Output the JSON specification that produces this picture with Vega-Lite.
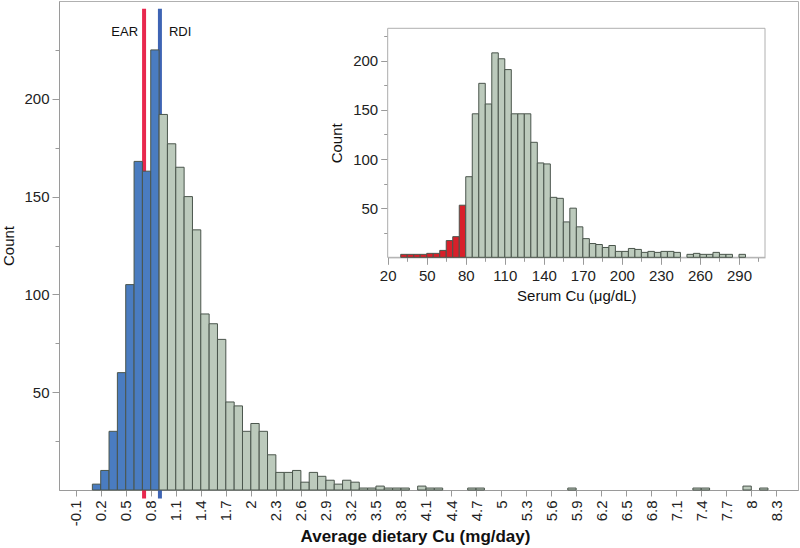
{
  "$schema": "https://vega.github.io/schema/vega-lite/v6.json",
  "width": 739,
  "height": 489,
  "autosize": {"type": "none"},
  "padding": {"left": 59, "top": 1, "right": 2, "bottom": 58},
  "background": "white",
  "config": {
    "view": {"stroke": "#b0b0b0", "strokeWidth": 1},
    "axis": {"grid": false, "labelFont": "Liberation Sans", "titleFont": "Liberation Sans", "domainColor": "#9a9a9a", "tickColor": "#9a9a9a", "labelColor": "#222222", "titleColor": "#111111", "labelOverlap": false, "labelFlush": false},
    "text": {"font": "Liberation Sans"}
  },
  "datasets": {
    "diet": [
      {"bin_start": 0.1, "bin_end": 0.2, "count": 3, "group": "below"},
      {"bin_start": 0.2, "bin_end": 0.3, "count": 10, "group": "below"},
      {"bin_start": 0.3, "bin_end": 0.4, "count": 30, "group": "below"},
      {"bin_start": 0.4, "bin_end": 0.5, "count": 60, "group": "below"},
      {"bin_start": 0.5, "bin_end": 0.6, "count": 105, "group": "below"},
      {"bin_start": 0.6, "bin_end": 0.7, "count": 168, "group": "below"},
      {"bin_start": 0.7, "bin_end": 0.8, "count": 163, "group": "below"},
      {"bin_start": 0.8, "bin_end": 0.9, "count": 225, "group": "below"},
      {"bin_start": 0.9, "bin_end": 1.0, "count": 192, "group": "above"},
      {"bin_start": 1.0, "bin_end": 1.1, "count": 177, "group": "above"},
      {"bin_start": 1.1, "bin_end": 1.2, "count": 165, "group": "above"},
      {"bin_start": 1.2, "bin_end": 1.3, "count": 150, "group": "above"},
      {"bin_start": 1.3, "bin_end": 1.4, "count": 133, "group": "above"},
      {"bin_start": 1.4, "bin_end": 1.5, "count": 90, "group": "above"},
      {"bin_start": 1.5, "bin_end": 1.6, "count": 85, "group": "above"},
      {"bin_start": 1.6, "bin_end": 1.7, "count": 77, "group": "above"},
      {"bin_start": 1.7, "bin_end": 1.8, "count": 45, "group": "above"},
      {"bin_start": 1.8, "bin_end": 1.9, "count": 43, "group": "above"},
      {"bin_start": 1.9, "bin_end": 2.0, "count": 30, "group": "above"},
      {"bin_start": 2.0, "bin_end": 2.1, "count": 34, "group": "above"},
      {"bin_start": 2.1, "bin_end": 2.2, "count": 30, "group": "above"},
      {"bin_start": 2.2, "bin_end": 2.3, "count": 18, "group": "above"},
      {"bin_start": 2.3, "bin_end": 2.4, "count": 9, "group": "above"},
      {"bin_start": 2.4, "bin_end": 2.5, "count": 9, "group": "above"},
      {"bin_start": 2.5, "bin_end": 2.6, "count": 10, "group": "above"},
      {"bin_start": 2.6, "bin_end": 2.7, "count": 4, "group": "above"},
      {"bin_start": 2.7, "bin_end": 2.8, "count": 9, "group": "above"},
      {"bin_start": 2.8, "bin_end": 2.9, "count": 7, "group": "above"},
      {"bin_start": 2.9, "bin_end": 3.0, "count": 5, "group": "above"},
      {"bin_start": 3.0, "bin_end": 3.1, "count": 3, "group": "above"},
      {"bin_start": 3.1, "bin_end": 3.2, "count": 5, "group": "above"},
      {"bin_start": 3.2, "bin_end": 3.3, "count": 4, "group": "above"},
      {"bin_start": 3.3, "bin_end": 3.4, "count": 1, "group": "above"},
      {"bin_start": 3.4, "bin_end": 3.5, "count": 1, "group": "above"},
      {"bin_start": 3.5, "bin_end": 3.6, "count": 2, "group": "above"},
      {"bin_start": 3.6, "bin_end": 3.7, "count": 1, "group": "above"},
      {"bin_start": 3.7, "bin_end": 3.8, "count": 1, "group": "above"},
      {"bin_start": 3.8, "bin_end": 3.9, "count": 1, "group": "above"},
      {"bin_start": 4.0, "bin_end": 4.1, "count": 2, "group": "above"},
      {"bin_start": 4.1, "bin_end": 4.2, "count": 1, "group": "above"},
      {"bin_start": 4.2, "bin_end": 4.3, "count": 1, "group": "above"},
      {"bin_start": 4.6, "bin_end": 4.7, "count": 1, "group": "above"},
      {"bin_start": 4.7, "bin_end": 4.8, "count": 1, "group": "above"},
      {"bin_start": 5.8, "bin_end": 5.9, "count": 1, "group": "above"},
      {"bin_start": 7.3, "bin_end": 7.4, "count": 1, "group": "above"},
      {"bin_start": 7.4, "bin_end": 7.5, "count": 1, "group": "above"},
      {"bin_start": 7.9, "bin_end": 8.0, "count": 2, "group": "above"},
      {"bin_start": 8.1, "bin_end": 8.2, "count": 1, "group": "above"}
    ],
    "serum": [
      {"bin_start": 30, "bin_end": 35, "count": 3, "group": "low"},
      {"bin_start": 35, "bin_end": 40, "count": 3, "group": "low"},
      {"bin_start": 40, "bin_end": 45, "count": 3, "group": "low"},
      {"bin_start": 45, "bin_end": 50, "count": 3, "group": "low"},
      {"bin_start": 50, "bin_end": 55, "count": 4, "group": "low"},
      {"bin_start": 55, "bin_end": 60, "count": 4, "group": "low"},
      {"bin_start": 60, "bin_end": 65, "count": 7, "group": "low"},
      {"bin_start": 65, "bin_end": 70, "count": 17, "group": "low"},
      {"bin_start": 70, "bin_end": 75, "count": 21, "group": "low"},
      {"bin_start": 75, "bin_end": 80, "count": 53, "group": "low"},
      {"bin_start": 80, "bin_end": 85, "count": 82, "group": "normal"},
      {"bin_start": 85, "bin_end": 90, "count": 146, "group": "normal"},
      {"bin_start": 90, "bin_end": 95, "count": 177, "group": "normal"},
      {"bin_start": 95, "bin_end": 100, "count": 156, "group": "normal"},
      {"bin_start": 100, "bin_end": 105, "count": 208, "group": "normal"},
      {"bin_start": 105, "bin_end": 110, "count": 202, "group": "normal"},
      {"bin_start": 110, "bin_end": 115, "count": 191, "group": "normal"},
      {"bin_start": 115, "bin_end": 120, "count": 146, "group": "normal"},
      {"bin_start": 120, "bin_end": 125, "count": 146, "group": "normal"},
      {"bin_start": 125, "bin_end": 130, "count": 146, "group": "normal"},
      {"bin_start": 130, "bin_end": 135, "count": 117, "group": "normal"},
      {"bin_start": 135, "bin_end": 140, "count": 96, "group": "normal"},
      {"bin_start": 140, "bin_end": 145, "count": 95, "group": "normal"},
      {"bin_start": 145, "bin_end": 150, "count": 61, "group": "normal"},
      {"bin_start": 150, "bin_end": 155, "count": 60, "group": "normal"},
      {"bin_start": 155, "bin_end": 160, "count": 36, "group": "normal"},
      {"bin_start": 160, "bin_end": 165, "count": 50, "group": "normal"},
      {"bin_start": 165, "bin_end": 170, "count": 31, "group": "normal"},
      {"bin_start": 170, "bin_end": 175, "count": 19, "group": "normal"},
      {"bin_start": 175, "bin_end": 180, "count": 14, "group": "normal"},
      {"bin_start": 180, "bin_end": 185, "count": 13, "group": "normal"},
      {"bin_start": 185, "bin_end": 190, "count": 10, "group": "normal"},
      {"bin_start": 190, "bin_end": 195, "count": 12, "group": "normal"},
      {"bin_start": 195, "bin_end": 200, "count": 6, "group": "normal"},
      {"bin_start": 200, "bin_end": 205, "count": 6, "group": "normal"},
      {"bin_start": 205, "bin_end": 210, "count": 9, "group": "normal"},
      {"bin_start": 210, "bin_end": 215, "count": 8, "group": "normal"},
      {"bin_start": 215, "bin_end": 220, "count": 5, "group": "normal"},
      {"bin_start": 220, "bin_end": 225, "count": 6, "group": "normal"},
      {"bin_start": 225, "bin_end": 230, "count": 5, "group": "normal"},
      {"bin_start": 230, "bin_end": 235, "count": 6, "group": "normal"},
      {"bin_start": 235, "bin_end": 240, "count": 6, "group": "normal"},
      {"bin_start": 240, "bin_end": 245, "count": 5, "group": "normal"},
      {"bin_start": 250, "bin_end": 255, "count": 3, "group": "normal"},
      {"bin_start": 255, "bin_end": 260, "count": 4, "group": "normal"},
      {"bin_start": 260, "bin_end": 265, "count": 3, "group": "normal"},
      {"bin_start": 265, "bin_end": 270, "count": 3, "group": "normal"},
      {"bin_start": 270, "bin_end": 275, "count": 5, "group": "normal"},
      {"bin_start": 275, "bin_end": 280, "count": 3, "group": "normal"},
      {"bin_start": 280, "bin_end": 285, "count": 3, "group": "normal"},
      {"bin_start": 290, "bin_end": 295, "count": 3, "group": "normal"}
    ],
    "refs": [
      {"label": "EAR", "value": 0.72},
      {"label": "RDI", "value": 0.91}
    ]
  },
  "layer": [
    {
      "layer": [
        {
          "data": {"name": "refs"},
          "mark": {"type": "rule", "strokeWidth": 4},
          "encoding": {
            "x": {
              "field": "value", "type": "quantitative",
              "scale": {"domain": [-0.3, 8.56], "nice": false, "zero": false},
              "axis": {
                "values": [-0.1, 0.2, 0.5, 0.8, 1.1, 1.4, 1.7, 2, 2.3, 2.6, 2.9, 3.2, 3.5, 3.8, 4.1, 4.4, 4.7, 5, 5.3, 5.6, 5.9, 6.2, 6.5, 6.8, 7.1, 7.4, 7.7, 8, 8.3],
                "tickCount": 200,
                "labelExpr": "datum.value < 0 ? '-' + format(-datum.value, '.1~f') : format(datum.value, '.1~f')",
                "labelAngle": 270,
                "labelOverlap": false,
                "labelFontSize": 15,
                "tickSize": 6,
                "labelPadding": 4,
                "title": "Average dietary Cu (mg/day)",
                "titleFontSize": 17,
                "titleFontWeight": "bold",
                "titlePadding": 3,
                "titleX": 356
              }
            },
            "y": {
              "datum": -4.3, "type": "quantitative",
              "scale": {"domain": [0, 250], "nice": false},
              "axis": {
                "values": [25, 50, 75, 100, 125, 150, 175, 200, 225],
                "tickCount": 200,
                "labelExpr": "datum.value % 50 == 0 ? datum.label : ''",
                "tickSize": {"condition": {"test": "datum.value % 50 != 0", "value": 4}, "value": 7},
                "labelOverlap": false,
                "labelFontSize": 15,
                "labelPadding": 3,
                "title": "Count",
                "titleFontSize": 15,
                "titleFontWeight": "normal",
                "titlePadding": 7
              }
            },
            "y2": {"datum": 246},
            "stroke": {"field": "label", "type": "nominal", "scale": {"domain": ["EAR", "RDI"], "range": ["#e8284e", "#3e64b4"]}, "legend": null}
          }
        },
        {
          "data": {"name": "diet"},
          "mark": {"type": "bar", "stroke": "#4a554c", "strokeWidth": 1},
          "encoding": {
            "x": {"field": "bin_start", "type": "quantitative"},
            "x2": {"field": "bin_end"},
            "y": {"field": "count", "type": "quantitative"},
            "y2": {"datum": 0},
            "fill": {"field": "group", "type": "nominal", "scale": {"domain": ["below", "above", "low", "normal"], "range": ["#4a7cc0", "#bccabc", "#d8202a", "#bccabc"]}, "legend": null}
          }
        },
        {
          "data": {"name": "refs"},
          "transform": [{"filter": "datum.label == 'EAR'"}],
          "mark": {"type": "text", "align": "right", "baseline": "middle", "dx": -6, "fontSize": 13, "color": "#111111"},
          "encoding": {
            "x": {"field": "value", "type": "quantitative"},
            "y": {"datum": 234, "type": "quantitative"},
            "text": {"field": "label"}
          }
        },
        {
          "data": {"name": "refs"},
          "transform": [{"filter": "datum.label == 'RDI'"}],
          "mark": {"type": "text", "align": "left", "baseline": "middle", "dx": 9, "fontSize": 13, "color": "#111111"},
          "encoding": {
            "x": {"field": "value", "type": "quantitative"},
            "y": {"datum": 234, "type": "quantitative"},
            "text": {"field": "label"}
          }
        }
      ]
    },
    {
      "layer": [
        {
          "data": {"values": [{}]},
          "mark": {"type": "rect", "fill": "white", "stroke": "#b0b0b0", "strokeWidth": 1},
          "encoding": {
            "x": {
              "datum": 20, "type": "quantitative",
              "scale": {"domain": [20, 310], "range": [328.7, 706], "nice": false, "zero": false},
              "axis": {
                "orient": "bottom",
                "offset": -232.7,
                "values": [20, 35, 50, 65, 80, 95, 110, 125, 140, 155, 170, 185, 200, 215, 230, 245, 260, 275, 290, 305],
                "tickCount": 200,
                "labelExpr": "(datum.value - 20) % 30 == 0 ? datum.label : ''",
                "tickSize": {"condition": {"test": "(datum.value - 20) % 30 != 0", "value": 4}, "value": 7},
                "labelOverlap": false,
                "labelAngle": 0,
                "labelFontSize": 15,
                "labelPadding": 4,
                "title": "Serum Cu (μg/dL)",
                "titleFontSize": 15,
                "titleFontWeight": "normal",
                "titlePadding": 5
              }
            },
            "x2": {"datum": 310},
            "y": {
              "datum": 0, "type": "quantitative",
              "scale": {"domain": [0, 233], "range": [256.3, 27.3], "nice": false},
              "axis": {
                "orient": "left",
                "offset": -328.7,
                "values": [25, 50, 75, 100, 125, 150, 175, 200, 225],
                "tickCount": 200,
                "labelExpr": "datum.value % 50 == 0 ? datum.label : ''",
                "tickSize": {"condition": {"test": "datum.value % 50 != 0", "value": 4}, "value": 7},
                "labelOverlap": false,
                "labelFontSize": 15,
                "labelPadding": 3,
                "title": "Count",
                "titleFontSize": 15,
                "titleFontWeight": "normal",
                "titlePadding": 8
              }
            },
            "y2": {"datum": 233}
          }
        },
        {
          "data": {"name": "serum"},
          "mark": {"type": "bar", "stroke": "#4a554c", "strokeWidth": 1},
          "encoding": {
            "x": {"field": "bin_start", "type": "quantitative"},
            "x2": {"field": "bin_end"},
            "y": {"field": "count", "type": "quantitative"},
            "y2": {"datum": 0},
            "fill": {"field": "group", "type": "nominal", "scale": {"domain": ["below", "above", "low", "normal"], "range": ["#4a7cc0", "#bccabc", "#d8202a", "#bccabc"]}, "legend": null}
          }
        }
      ]
    }
  ],
  "resolve": {
    "scale": {"x": "independent", "y": "independent"},
    "axis": {"x": "independent", "y": "independent"}
  }
}
